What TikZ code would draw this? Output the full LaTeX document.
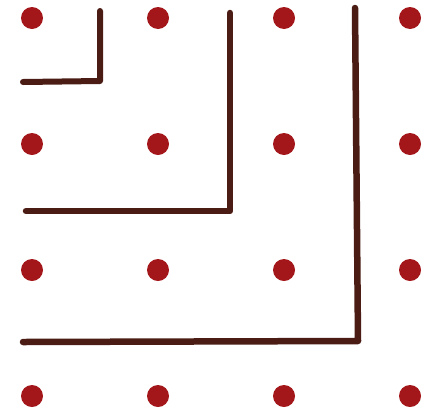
\documentclass[tikz,border=0pt]{standalone}
\usepackage{tikz}
\usepackage{xcolor}
\definecolor{dotred}{HTML}{A3161A}
\definecolor{penbrown}{HTML}{4A1C14}

\begin{document}
\begin{tikzpicture}[
            x=1pt, y=-1pt,
            dot/.style={circle, fill=dotred, inner sep=0pt, minimum size=22pt},
            stroke/.style={draw=penbrown, line width=6.5pt, line cap=round, line join=round}
        ]
            \useasboundingbox (0,0) rectangle (435,418);

            % --- GRELHA DE PONTOS ---
            \foreach \i in {0,...,3} {
                \foreach \j in {0,...,3} {
                    \node[dot] (p\i\j) at ({32+126*\i},{18+126*\j}) {};
                }
            }

            % --- CANTOS DOS L ---
            \coordinate (topA) at (100,11);
            \coordinate (cornerA) at (100,81);
            \coordinate (leftA) at (23,82);

            \coordinate (topB) at (230,13);
            \coordinate (cornerB) at (230,211);
            \coordinate (leftB) at (26,211);

            \coordinate (topC) at (355,8);
            \coordinate (cornerC) at (358,341);
            \coordinate (leftC) at (23,342);

            % --- TRACOS ---
            \draw[stroke, line width=6pt] (topA) -- (cornerA) -- (leftA);
            \draw[stroke] (topB) -- (cornerB) -- (leftB);
            \draw[stroke] (topC) -- (cornerC) -- (leftC);

        \end{tikzpicture}
\end{document}
